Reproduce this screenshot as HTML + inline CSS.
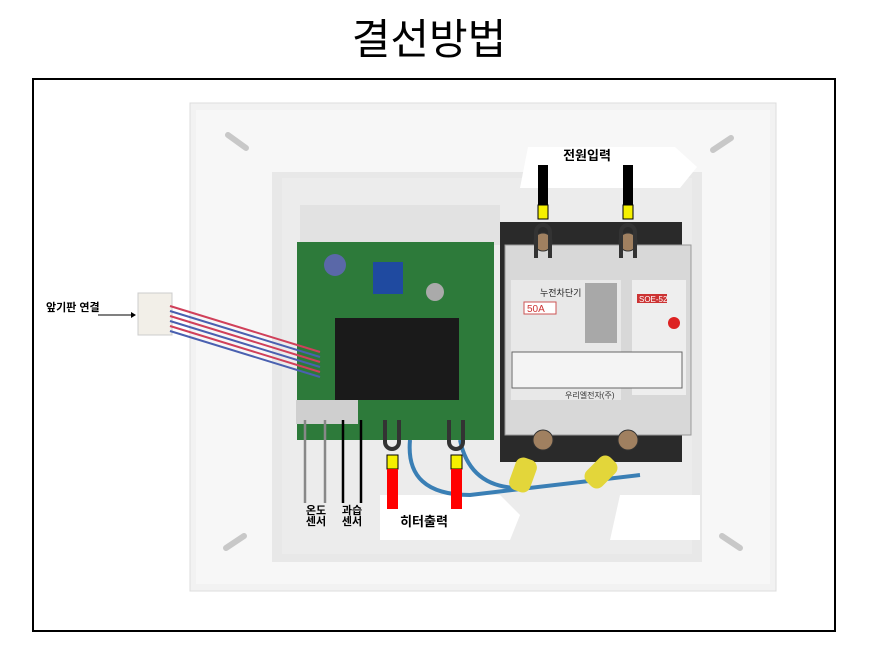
<!DOCTYPE html>
<html><head><meta charset="utf-8"><style>
html,body{margin:0;padding:0;background:#fff;}
svg{display:block;}
text{font-family:"Liberation Sans","Noto Sans CJK KR",sans-serif;}
</style></head><body>
<svg width="879" height="664" viewBox="0 0 879 664" xmlns="http://www.w3.org/2000/svg">
<rect width="879" height="664" fill="#fff"/>
<text x="429" y="54" font-size="42" text-anchor="middle" fill="#000">결선방법</text>
<rect x="33" y="79" width="802" height="552" fill="#fff" stroke="#000" stroke-width="2"/>
<!-- enclosure -->
<rect x="190" y="103" width="586" height="488" fill="#f2f2f2" stroke="#ddd"/>
<rect x="196" y="110" width="574" height="474" fill="#f7f7f7"/>
<rect x="272" y="172" width="430" height="390" fill="#e8e8e8"/>
<rect x="282" y="178" width="410" height="376" fill="#ececec"/>
<rect x="300" y="205" width="200" height="40" fill="#e2e2e2"/>
<!-- slots -->
<g stroke="#c8c8c8" stroke-width="6" stroke-linecap="round">
<line x1="228" y1="135" x2="246" y2="148"/><line x1="713" y1="150" x2="731" y2="138"/>
<line x1="226" y1="548" x2="244" y2="536"/><line x1="722" y1="536" x2="740" y2="548"/>
</g>
<!-- white label areas -->
<polygon points="528,147 675,147 697,167 680,188 520,188" fill="#fff"/>
<polygon points="380,495 500,495 520,515 510,540 380,540" fill="#fff"/>
<polygon points="620,495 700,495 700,540 610,540" fill="#fff"/>
<!-- breaker base -->
<rect x="500" y="222" width="182" height="240" fill="#2a2a2a"/>
<rect x="505" y="245" width="186" height="190" fill="#d8d8d8" stroke="#999"/>
<rect x="511" y="280" width="110" height="120" fill="#e8e8e8"/>
<rect x="632" y="280" width="54" height="115" fill="#eee"/>
<rect x="585" y="283" width="32" height="60" fill="#a8a8a8"/>
<text x="540" y="296" font-size="9" fill="#222">누전차단기</text>
<rect x="524" y="302" width="32" height="12" fill="#fff" stroke="#c55"/>
<text x="527" y="312" font-size="10" fill="#c33">50A</text>
<rect x="637" y="294" width="30" height="9" fill="#c33"/>
<text x="639" y="302" font-size="8" fill="#fff">SOE-52</text>
<circle cx="674" cy="323" r="6" fill="#d22"/>
<rect x="512" y="352" width="170" height="36" fill="#f4f4f4" stroke="#666"/>
<text x="565" y="398" font-size="8" fill="#333">우리엘전자(주)</text>
<!-- screws -->
<g fill="#a08060" stroke="#333"><circle cx="543" cy="242" r="9"/><circle cx="628" cy="242" r="9"/><circle cx="543" cy="440" r="10"/><circle cx="628" cy="440" r="10"/><circle cx="392" cy="415" r="9"/><circle cx="456" cy="415" r="9"/></g>
<!-- blue wires & lugs -->
<path d="M410,440 Q405,495 470,495 L640,475" fill="none" stroke="#3a7fb5" stroke-width="4"/>
<path d="M460,440 Q470,488 520,488" fill="none" stroke="#3a7fb5" stroke-width="4"/>
<rect x="512" y="458" width="22" height="34" rx="8" fill="#e3d63a" transform="rotate(20 523 475)"/>
<rect x="590" y="455" width="22" height="34" rx="8" fill="#e3d63a" transform="rotate(45 601 472)"/>
<!-- PCB -->
<rect x="297" y="242" width="197" height="198" fill="#2d7a3a"/>
<rect x="335" y="318" width="124" height="82" fill="#1a1a1a"/>
<rect x="373" y="262" width="30" height="32" fill="#1f4aa0"/>
<circle cx="335" cy="265" r="11" fill="#5a68a8"/>
<circle cx="435" cy="292" r="9" fill="#aaa"/>
<rect x="296" y="400" width="62" height="24" fill="#cfcfcf"/>
<!-- ribbon -->
<rect x="138" y="293" width="34" height="42" fill="#f2efe8" stroke="#ccc"/>
<g fill="none" stroke-width="2">
<path d="M170,306 L320,352" stroke="#d0405a"/><path d="M170,311 L320,357" stroke="#4a60b0"/>
<path d="M170,316 L320,362" stroke="#d0405a"/><path d="M170,321 L320,367" stroke="#4a60b0"/>
<path d="M170,326 L320,372" stroke="#d0405a"/><path d="M170,331 L320,377" stroke="#4a60b0"/>
</g>
<text x="46" y="311" font-size="11" font-weight="bold" fill="#000">앞기판 연결</text>
<line x1="98" y1="315" x2="131" y2="315" stroke="#000"/><polygon points="131,312 136,315 131,318" fill="#000"/>
<!-- power input -->
<rect x="538" y="165" width="10" height="40" fill="#000"/><rect x="538" y="205" width="10" height="14" fill="#f5f000" stroke="#000"/>
<rect x="623" y="165" width="10" height="40" fill="#000"/><rect x="623" y="205" width="10" height="14" fill="#f5f000" stroke="#000"/>
<path d="M536,258 L536,232 A7,7 0 0 1 550,232 L550,258" fill="none" stroke="#333" stroke-width="4"/>
<path d="M621,258 L621,232 A7,7 0 0 1 635,232 L635,258" fill="none" stroke="#333" stroke-width="4"/>
<text x="587" y="160" font-size="13" font-weight="bold" text-anchor="middle" fill="#000">전원입력</text>
<!-- heater output -->
<path d="M385,420 L385,442 A7,7 0 0 0 399,442 L399,420" fill="none" stroke="#333" stroke-width="4"/>
<path d="M449,420 L449,442 A7,7 0 0 0 463,442 L463,420" fill="none" stroke="#333" stroke-width="4"/>
<rect x="387" y="455" width="11" height="14" fill="#f5f000" stroke="#000"/><rect x="387" y="469" width="11" height="40" fill="#f00"/>
<rect x="451" y="455" width="11" height="14" fill="#f5f000" stroke="#000"/><rect x="451" y="469" width="11" height="40" fill="#f00"/>
<text x="424" y="526" font-size="13" font-weight="bold" text-anchor="middle" fill="#000">히터출력</text>
<!-- sensors -->
<line x1="305" y1="420" x2="305" y2="503" stroke="#888" stroke-width="2.5"/>
<line x1="325" y1="420" x2="325" y2="503" stroke="#888" stroke-width="2.5"/>
<line x1="343" y1="420" x2="343" y2="503" stroke="#000" stroke-width="2.5"/>
<line x1="361" y1="420" x2="361" y2="503" stroke="#000" stroke-width="2.5"/>
<text x="316" y="514" font-size="11" font-weight="bold" text-anchor="middle" fill="#000">온도</text>
<text x="316" y="525" font-size="11" font-weight="bold" text-anchor="middle" fill="#000">센서</text>
<text x="352" y="514" font-size="11" font-weight="bold" text-anchor="middle" fill="#000">과습</text>
<text x="352" y="525" font-size="11" font-weight="bold" text-anchor="middle" fill="#000">센서</text>
</svg>
</body></html>
